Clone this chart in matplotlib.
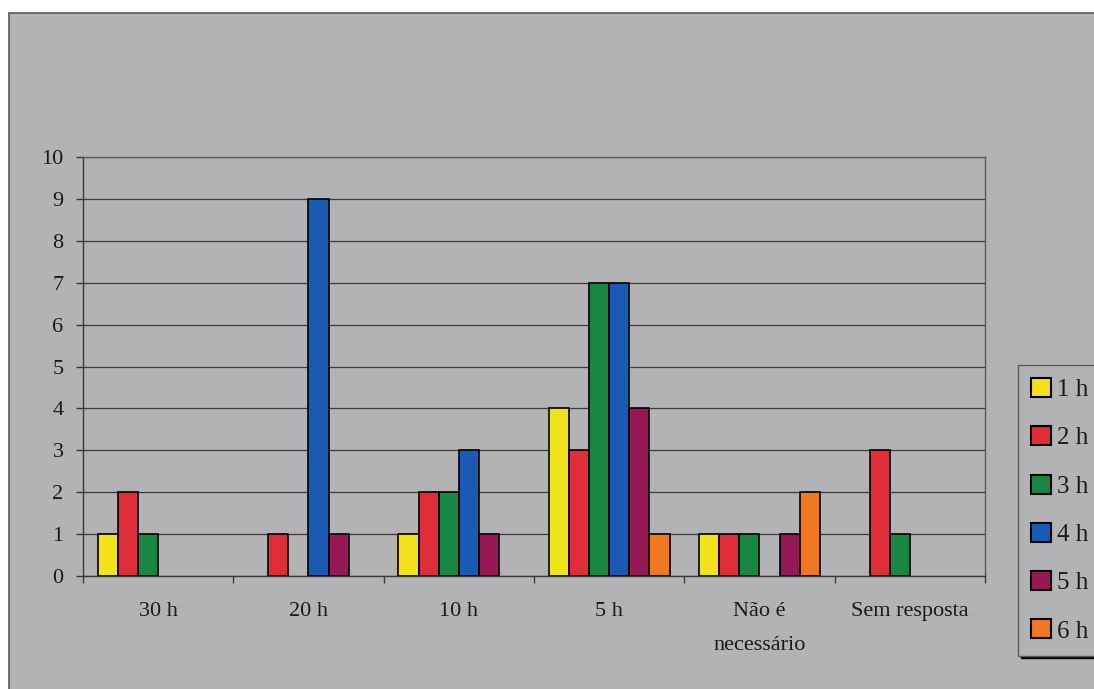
import numpy as np
import matplotlib
matplotlib.use("Agg")
import matplotlib.pyplot as plt
from matplotlib.patches import Rectangle

plt.rcParams['font.family'] = ['Liberation Serif', 'DejaVu Serif']

categories = ["30 h", "20 h", "10 h", "5 h", "Não é\nnecessário", "Sem resposta"]
series_names = ["1 h", "2 h", "3 h", "4 h", "5 h", "6 h"]
s1h = [1, 0, 1, 4, 1, 0]
s2h = [2, 1, 2, 3, 1, 3]
s3h = [1, 0, 2, 7, 1, 1]
s4h = [0, 9, 3, 7, 0, 0]
s5h = [0, 1, 1, 4, 1, 0]
s6h = [0, 0, 0, 1, 2, 0]
series_values = [s1h, s2h, s3h, s4h, s5h, s6h]
colors = ["#f2e21e", "#e02d3a", "#198741", "#1a5ab4", "#961955", "#f07823"]
y_ticks = list(range(0, 11))

W, H = 1094, 689
bg = "#b3b3b5"
ink = "#1a1a1a"

fig = plt.figure(figsize=(W / 100, H / 100), dpi=100, facecolor="white")

# chart area panel
fig.patches.append(Rectangle((9 / W, -0.05), 1.1, 1 - 13 / H + 0.05,
                             transform=fig.transFigure, facecolor=bg,
                             edgecolor="#5a5a5a", linewidth=1.2, zorder=-5))

left, right, top, bottom = 83, 985, 157, 576
ax = fig.add_axes([left / W, 1 - bottom / H, (right - left) / W, (bottom - top) / H])
ax.set_zorder(2)
ax.set_facecolor(bg)

n_series = len(series_values)
bw = 0.134
x = np.arange(len(categories))
for j, (vals, col, name) in enumerate(zip(series_values, colors, series_names)):
    vals = np.asarray(vals, dtype=float)
    keep = vals > 0
    ax.bar(x[keep] + (j - (n_series - 1) / 2) * bw, vals[keep], width=bw,
           color=col, edgecolor="black", linewidth=1.2, zorder=3)

ax.set_xlim(-0.5, len(categories) - 0.5)
ax.set_ylim(0, 10)
ax.set_yticks(y_ticks)
ax.yaxis.grid(True, color="#3a3a3a", linewidth=0.9, zorder=1)
ax.set_axisbelow(True)

for s in ax.spines.values():
    s.set_color("#5a5a5a")
    s.set_linewidth(1.0)
ax.spines['left'].set_color("#3a3a3a")
ax.spines['bottom'].set_color("#3a3a3a")

ax.set_xticks(np.append(x - 0.5, len(categories) - 0.5))
ax.set_xticklabels([])
ax.set_xticks(x, minor=True)
ax.set_xticklabels(categories, minor=True, fontsize=16, color=ink, linespacing=2.05)
ax.tick_params(axis='x', which='major', direction='out', length=5, width=1, color="#3a3a3a")
ax.tick_params(axis='x', which='minor', length=0, pad=19)
ax.tick_params(axis='y', direction='out', length=5, width=1, color="#3a3a3a",
               labelsize=16, labelcolor=ink, pad=9)

handles = [Rectangle((0, 0), 1, 1, facecolor=c, edgecolor="black", linewidth=1.5)
           for c in colors]
leg = fig.legend(handles, series_names, loc="upper left",
                 bbox_to_anchor=(1018 / W, 1 - 365 / H), borderaxespad=0,
                 fontsize=18, handlelength=0.8, handleheight=0.8,
                 handletextpad=0.25, labelspacing=1.0, borderpad=0.52,
                 fancybox=False, framealpha=1, facecolor=bg, edgecolor="#5a5a5a",
                 shadow={'color': 'black', 'alpha': 1})
leg.set_zorder(3)
for t in leg.get_texts():
    t.set_color(ink)
leg.get_frame().set_linewidth(1.0)

fig.savefig("out.png", dpi=100, facecolor="white")
